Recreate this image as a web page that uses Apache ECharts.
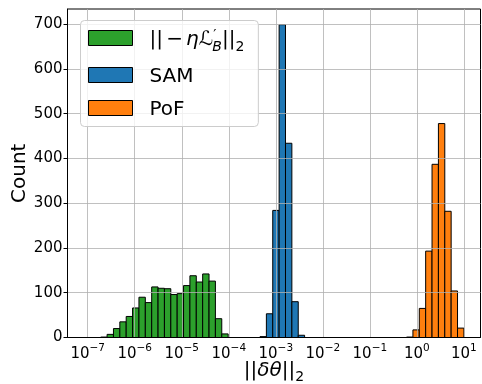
<!DOCTYPE html>
<html>
<head>
<meta charset="utf-8">
<script src="https://cdn.jsdelivr.net/npm/echarts@6/dist/echarts.min.js"></script>
<style>
html,body{margin:0;padding:0;background:#fff;}
#chart{width:482px;height:384px;}
</style>
</head>
<body>
<div id="chart"></div>
<script>
// Histogram bins (log10 space, matplotlib logspace bins)
const binLo = -6.7236;
const binWidth = 0.1355;

// Series counts per bin (start bin index + counts)
const seriesNames = ['||−ηℒ′B||2', 'SAM', 'PoF'];
const greenStartBin = 0;
const greenCounts = [1, 7, 20, 35, 47, 66, 90, 78, 113, 110, 109, 96, 98, 116, 138, 124, 142, 126, 42, 8];
const samStartBin = 25;
const samCounts = [2, 53, 284, 699, 434, 80, 5];
const pofStartBin = 48;
const pofCounts = [1, 17, 65, 193, 387, 478, 282, 104, 21];

// Tick labels
const xTickExps = [-7, -6, -5, -4, -3, -2, -1, 0, 1];
const yTicks = [0, 100, 200, 300, 400, 500, 600, 700];

function toBins(start, counts) {
  return counts.map((c, i) => {
    const k = start + i;
    return [binLo + k * binWidth, binLo + (k + 1) * binWidth, c];
  });
}

function renderItem(params, api) {
  const x0 = api.value(0), x1 = api.value(1), c = api.value(2);
  const p0 = api.coord([x0, 0]);
  const p1 = api.coord([x1, c]);
  return {
    type: 'rect',
    shape: { x: p0[0], y: p1[1], width: p1[0] - p0[0], height: p0[1] - p1[1] },
    style: { fill: api.visual('color'), stroke: '#000', lineWidth: 1 }
  };
}

const colors = ['#2ca02c', '#1f77b4', '#ff7f0e'];
const chart = echarts.init(document.getElementById('chart'), null, { renderer: 'canvas' });

const FONT = 'DejaVu Sans';
chart.setOption({
  animation: false,
  textStyle: { fontFamily: FONT },
  grid: { left: 67.5, right: 1.5, top: 9, bottom: 46.5, containLabel: false, outerBoundsMode: 'none', show: true, borderColor: '#000', borderWidth: 1, backgroundColor: 'transparent' },
  xAxis: {
    type: 'value', min: -7.43, max: 1.353, z: 3,
    axisLine: { show: true, onZero: false, lineStyle: { color: '#000', width: 1 } },
    axisTick: { show: false, customValues: xTickExps },
    splitLine: { show: true, lineStyle: { color: '#b0b0b0', width: 0.8 } },
    axisLabel: {
      customValues: xTickExps,
      margin: 5,
      formatter: function (v) {
        const e = Math.round(v);
        const s = e < 0 ? '−' + (-e) : String(e);
        return '{b|10}{s|' + s + '}';
      },
      rich: {
        b: { fontSize: 15, fontFamily: FONT, color: '#000', verticalAlign: 'bottom' },
        s: { fontSize: 10.5, fontFamily: FONT, color: '#000', verticalAlign: 'bottom', padding: [0, 0, 8, 0] }
      }
    },
    name: '{n|||}{i|δθ}{n|||}{sub|2}',
    nameLocation: 'middle',
    nameGap: 21,
    nameMoveOverlap: false,
    nameTextStyle: {
      verticalAlign: 'top',
      lineHeight: 22,
      rich: {
        n: { fontSize: 20, fontFamily: FONT, color: '#000', verticalAlign: 'bottom', lineHeight: 22 },
        i: { fontSize: 20, fontFamily: FONT, fontStyle: 'italic', color: '#000', verticalAlign: 'bottom', lineHeight: 22 },
        sub: { fontSize: 14, fontFamily: FONT, color: '#000', verticalAlign: 'bottom', lineHeight: 22, padding: [0, 0, -4, 0] }
      }
    }
  },
  yAxis: {
    type: 'value', min: 0, max: 734, z: 3,
    axisLine: { show: true, onZero: false, lineStyle: { color: '#000', width: 1 } },
    axisTick: { show: true, length: 4, lineStyle: { color: '#000', width: 1 }, customValues: yTicks },
    splitLine: { show: true, lineStyle: { color: '#b0b0b0', width: 0.8 } },
    axisLabel: { customValues: yTicks, fontSize: 15, color: '#000', fontFamily: FONT, margin: 5 },
    name: 'Count',
    nameLocation: 'middle',
    nameGap: 38,
    nameMoveOverlap: false,
    nameTextStyle: { fontSize: 20, color: '#000', fontFamily: FONT }
  },
  legend: {
    orient: 'vertical',
    left: 80.5, top: 20.5,
    icon: 'rect',
    itemWidth: 44, itemHeight: 15, itemGap: 9,
    padding: [5.5, 14, 6.5, 7.5],
    backgroundColor: 'rgba(255,255,255,0.8)',
    borderColor: '#cccccc', borderWidth: 1, borderRadius: 4,
    itemStyle: { borderColor: '#000', borderWidth: 1 },
    data: seriesNames,
    formatter: function (name) {
      if (name === seriesNames[0]) {
        return '{n|||}{sp| }{n|−}{sp| }{i|η}{c|ℒ}{p|′}{sb|B}{n|||}{s2|2}';
      }
      return '{n|' + name + '}';
    },
    textStyle: {
      fontSize: 20, color: '#000', fontFamily: FONT, lineHeight: 24, padding: [0, 0, 0, 12],
      rich: {
        n: { fontSize: 20, fontFamily: FONT, color: '#000', verticalAlign: 'bottom', lineHeight: 24 },
        sp: { fontSize: 10, fontFamily: FONT, color: '#000', verticalAlign: 'bottom', lineHeight: 24 },
        i: { fontSize: 20, fontFamily: FONT, fontStyle: 'italic', color: '#000', verticalAlign: 'bottom', lineHeight: 24 },
        c: { fontSize: 20, fontFamily: FONT, fontStyle: 'italic', color: '#000', verticalAlign: 'bottom', lineHeight: 24 },
        p: { fontSize: 14, fontFamily: FONT, color: '#000', verticalAlign: 'bottom', lineHeight: 24, padding: [0, 0, 8, 0] },
        sb: { fontSize: 14, fontFamily: FONT, fontStyle: 'italic', color: '#000', verticalAlign: 'bottom', lineHeight: 24, padding: [0, 0, -4, -4] },
        s2: { fontSize: 14, fontFamily: FONT, color: '#000', verticalAlign: 'bottom', lineHeight: 24, padding: [0, 0, -4, 0] }
      }
    }
  },
  series: [
    { name: seriesNames[0], type: 'custom', renderItem: renderItem, color: colors[0], itemStyle: { color: colors[0] }, encode: { x: [0, 1], y: 2 }, data: toBins(greenStartBin, greenCounts) },
    { name: seriesNames[1], type: 'custom', renderItem: renderItem, color: colors[1], itemStyle: { color: colors[1] }, encode: { x: [0, 1], y: 2 }, data: toBins(samStartBin, samCounts) },
    { name: seriesNames[2], type: 'custom', renderItem: renderItem, color: colors[2], itemStyle: { color: colors[2] }, encode: { x: [0, 1], y: 2 }, data: toBins(pofStartBin, pofCounts) }
  ]
});
</script>
</body>
</html>
